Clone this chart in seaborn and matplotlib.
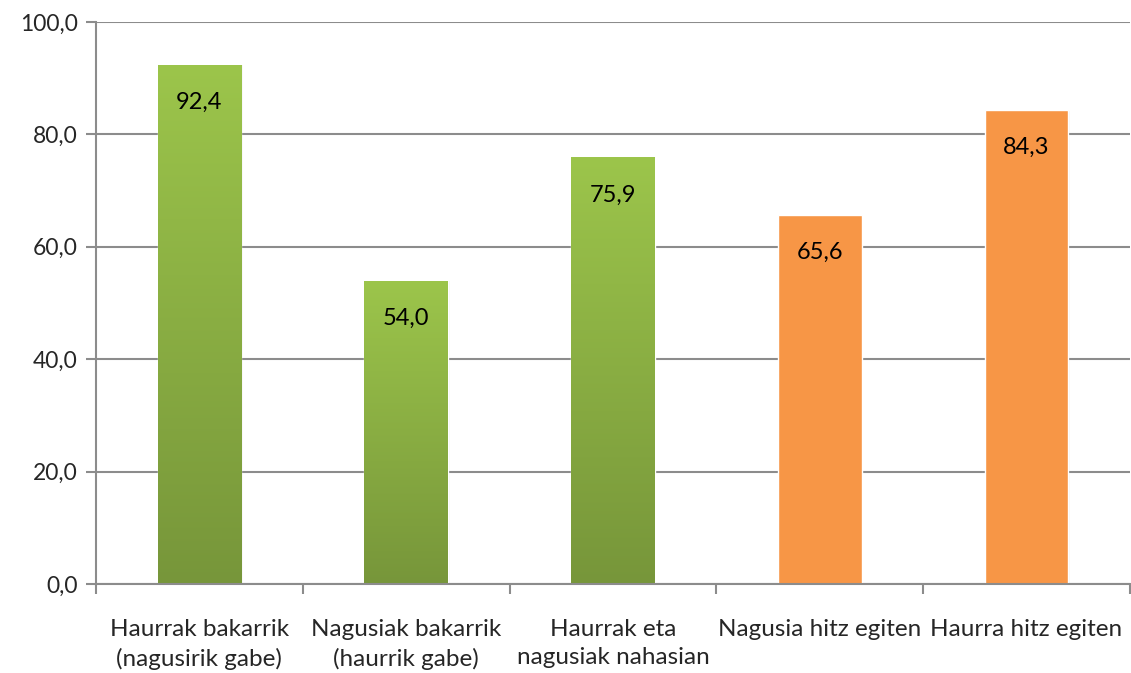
import numpy as np
import pandas as pd
import matplotlib
matplotlib.use('Agg')
import matplotlib.pyplot as plt
import seaborn as sns
from matplotlib.colors import LinearSegmentedColormap

# chart data
categories = ['Haurrak bakarrik\n(nagusirik gabe)', 'Nagusiak bakarrik\n(haurrik gabe)',
              'Haurrak eta\nnagusiak nahasian', 'Nagusia hitz egiten', 'Haurra hitz egiten']
values = [92.4, 54.0, 75.9, 65.6, 84.3]
bar_colors = ['#8fb646', '#8fb646', '#8fb646', '#f79646', '#f79646']
gradient = [True, True, True, False, False]
y_ticks = [0, 20, 40, 60, 80, 100]

df = pd.DataFrame({'cat': categories, 'val': values})

sns.set_style('white')
plt.rcParams['font.family'] = ['Lato', 'DejaVu Sans']

fig = plt.figure(figsize=(11.31, 6.73), dpi=100)
ax = fig.add_axes([0.0849, 0.1322, 0.9141, 0.8351])

sns.barplot(data=df, x='cat', y='val', hue='cat', palette=bar_colors,
            legend=False, width=0.405, ax=ax, zorder=3, saturation=1)

# green vertical gradient, light on top, dark at bottom
green_cmap = LinearSegmentedColormap.from_list('g', ['#77963a', '#9cc54b'])
for patch, grad in zip(ax.patches, gradient):
    x0, w, h = patch.get_x(), patch.get_width(), patch.get_height()
    # faint soft shadow
    for k, a in [(0.004, 0.05), (0.008, 0.03)]:
        ax.bar(x0 + w / 2 + k, h + 0.2, width=w, bottom=-0.3, color='#000000',
               alpha=a, zorder=2, linewidth=0)
    if grad:
        img = ax.imshow(np.linspace(0, 1, 256).reshape(-1, 1), cmap=green_cmap,
                        origin='lower', extent=[x0, x0 + w, 0, h], aspect='auto',
                        zorder=4)
        img.set_clip_path(patch)

for i, v in enumerate(values):
    ax.annotate(f'{v:.1f}'.replace('.', ','), (i, v), xytext=(0, -27),
                textcoords='offset points', ha='center', va='center',
                fontsize=17, color='black', zorder=5)

ax.set_xlim(-0.5, 4.5)
ax.set_ylim(0, 100)
ax.set_yticks(y_ticks)
ax.set_yticklabels([f'{t:.1f}'.replace('.', ',') for t in y_ticks])
ax.yaxis.grid(True, color='#8c8c8c', linewidth=1.5, zorder=0)
ax.set_axisbelow(True)

# category boundary ticks below the axis
ax.set_xticks(range(len(categories)))
ax.set_xticklabels(categories, linespacing=1.45)
ax.set_xticks(np.arange(-0.5, 5.0, 1.0), minor=True)
ax.tick_params(axis='x', which='major', length=0, pad=25, labelsize=17.5)
ax.tick_params(axis='x', which='minor', length=7, width=1.5, color='#8c8c8c',
               direction='out', bottom=True)
ax.tick_params(axis='y', length=7, width=1.5, color='#8c8c8c', direction='out',
               left=True, pad=6, labelsize=16.5)

for s in ['top', 'right']:
    ax.spines[s].set_visible(False)
for s in ['left', 'bottom']:
    ax.spines[s].set_color('#8c8c8c')
    ax.spines[s].set_linewidth(1.5)
    ax.spines[s].set_zorder(6)

ax.set_xlabel('')
ax.set_ylabel('')

fig.savefig('out.png', dpi=100)
